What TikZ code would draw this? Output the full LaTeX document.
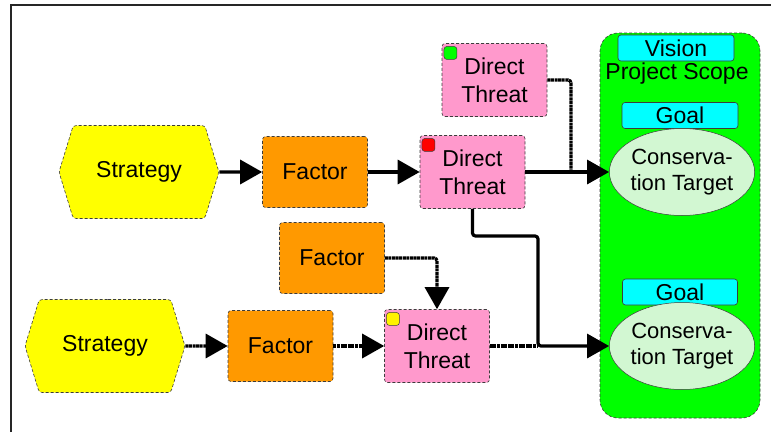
\documentclass[tikz,border=0pt]{standalone}
\usepackage{fontspec}
\setmainfont{Liberation Sans}
\usetikzlibrary{shapes.geometric,shapes.symbols,arrows.meta}
\definecolor{cStrat}{HTML}{FFFF00}
\definecolor{cFact}{HTML}{FF9900}
\definecolor{cThr}{HTML}{FF99CC}
\definecolor{cScope}{HTML}{00FF00}
\definecolor{cGoal}{HTML}{00FFFF}
\definecolor{cTgt}{HTML}{D2F7D2}
\definecolor{cEdge}{HTML}{3C3C3C}

\begin{document}
\begin{tikzpicture}[x=1pt,y=-1pt,
    every node/.style={font=\fontsize{23}{28}\selectfont, align=center, inner sep=0pt},
    box/.style={draw=cEdge, densely dashed, line width=0.6pt, rounded corners=3pt},
    strat/.style={box, fill=cStrat, signal, signal to=east and west,
      signal pointer angle=146, minimum width=160pt, minimum height=93pt},
    fact/.style={box, fill=cFact, minimum width=105pt, minimum height=71pt},
    thr/.style={box, fill=cThr, minimum width=105pt, minimum height=73pt},
    flag/.style={draw=cEdge, line width=0.5pt, rounded corners=3pt, minimum size=13pt, anchor=north west},
    lbl/.style={draw=cEdge, line width=0.6pt, fill=cGoal, rounded corners=3pt,
      minimum width=116pt, minimum height=26pt},
    tgt/.style={ellipse, draw=cEdge, line width=0.5pt, fill=cTgt,
      minimum width=130pt, minimum height=87pt, font=\fontsize{22}{26}\selectfont},
    link/.style={line width=3.2pt, -{Triangle[length=22pt,width=24pt]}},
    fuzzy/.style={link, dash pattern=on 3pt off 0.6pt}]
  \useasboundingbox (0,0) rectangle (771,432);
  \draw[line width=2pt, draw=black!85] (11,432) -- (11,5) -- (771,5);

  % project scope
  \node[draw=cEdge, densely dashed, line width=0.6pt, fill=cScope, rounded corners=18pt,
    minimum width=160pt, minimum height=385pt] (scope) at (680,225.5) {};
  \node[lbl] (vision) at (676,48) {Vision};
  \node (scopeLbl) at (677,74) {Project Scope};
  \node[lbl] (goal1) at (680,115.5) {Goal};
  \node[tgt] (tgt1) at (682,172) {Conserva-\\tion Target};
  \node[lbl, minimum width=115pt] (goal2) at (680,292) {Goal};
  \node[tgt] (tgt2) at (682,346) {Conserva-\\tion Target};

  % chain nodes
  \node[strat] (strat1) at (139,172) {Strategy};
  \node[strat] (strat2) at (105,346) {Strategy};
  \node[fact] (fac1) at (315,172) {Factor};
  \node[fact] (fac2) at (332,258) {Factor};
  \node[fact] (fac3) at (280.5,346) {Factor};
  \node[thr] (thr0) at (494.5,80) {Direct\\Threat};
  \node[thr] (thr1) at (472.5,172) {Direct\\Threat};
  \node[thr] (thr2) at (437,346) {Direct\\Threat};
  \foreach \t/\c in {thr0/green, thr1/red, thr2/yellow}
    \node[flag, fill=\c] (flag\t) at ([shift={(2,3)}]\t.north west) {};

  % links
  \coordinate (j1) at (571,172);
  \coordinate (j2) at (538,236);
  \coordinate (j3) at (538,346);
  \draw[link] (strat1) -- (fac1);
  \draw[link] (fac1) -- (thr1);
  \draw[link] (thr1) -- (tgt1);
  \draw[fuzzy, -, rounded corners=3pt] (thr0.east) -| (j1);
  \draw[link, rounded corners=3pt] (thr1.south) |- (j2) |- (tgt2.west);
  \draw[fuzzy, -] (thr2) -- (j3);
  \draw[fuzzy, rounded corners=3pt] (fac2) -| (thr2);
  \draw[fuzzy] (strat2) -- (fac3);
  \draw[fuzzy] (fac3) -- (thr2);
\end{tikzpicture}
\end{document}
